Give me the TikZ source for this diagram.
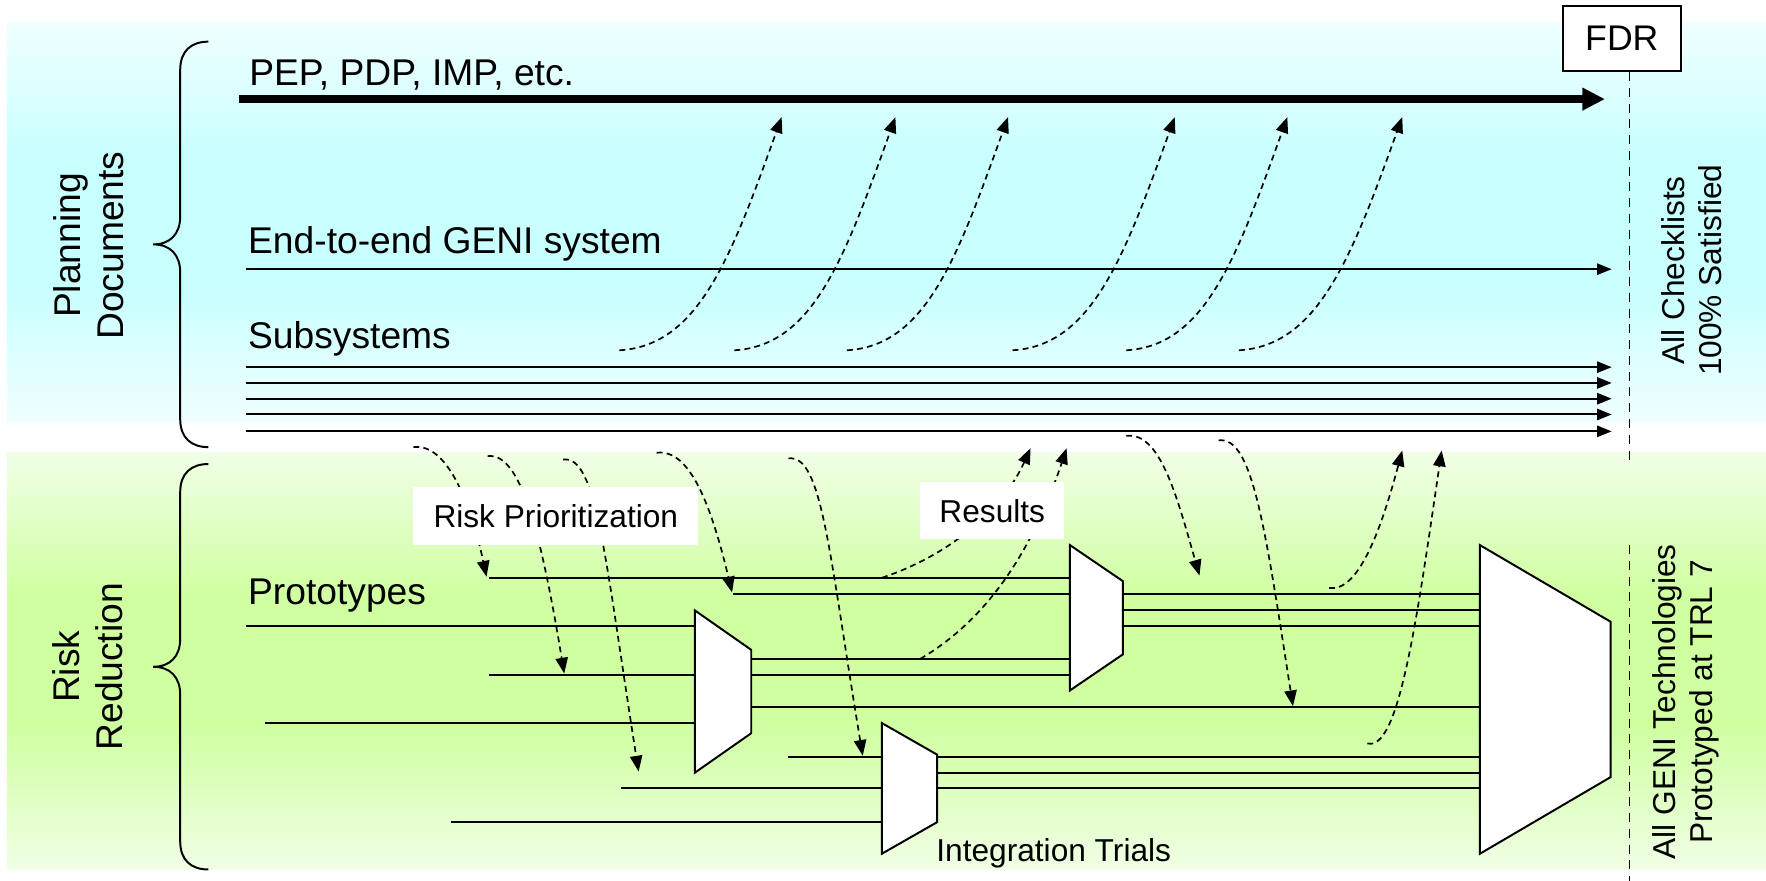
\documentclass[tikz,border=0pt]{standalone}
\usepackage{fontspec}
\setmainfont{Liberation Sans}
\usetikzlibrary{arrows.meta}

\definecolor{planTop}{HTML}{F0FFFF}
\definecolor{planMid}{HTML}{C8FFFF}
\definecolor{riskTop}{HTML}{F0FFE6}
\definecolor{riskMid}{HTML}{D0FFA2}

% bands: the path's box spans 25bp (bottom) to 75bp (top)
\pgfdeclareverticalshading{planband}{100bp}{color(0bp)=(planTop); color(25bp)=(planTop);
  color(42bp)=(planMid); color(58bp)=(planMid); color(75bp)=(planTop); color(100bp)=(planTop)}
\pgfdeclareverticalshading{riskband}{100bp}{color(0bp)=(riskTop); color(25bp)=(riskTop);
  color(42bp)=(riskMid); color(58bp)=(riskMid); color(75bp)=(riskTop); color(100bp)=(riskTop)}

\tikzset{
  wire/.style={line width=0.35mm},
  flow/.style={wire, -{Triangle[length=2.6mm,width=2mm]}},
  mainflow/.style={line width=1.4mm, -{Triangle[length=4mm,width=3.8mm]}},
  loopback/.style={line width=0.3mm, dash pattern=on 1.05mm off 0.75mm,
    -{Triangle[length=2.8mm,width=2.2mm]}},
  milestone/.style={line width=0.25mm, dash pattern=on 1.6mm off 1.2mm},
  combiner/.style={wire, fill=white},
  biglabel/.style={font=\fontsize{18.8}{21.6}\selectfont, inner sep=0pt},
  smalllabel/.style={font=\fontsize{16}{18.5}\selectfont, inner sep=0pt},
  tag/.style={smalllabel, fill=white},
}

\begin{document}
\begin{tikzpicture}[x=0.2mm, y=-0.2mm]
      \useasboundingbox (0,0) rectangle (1568,782);

      % bands
      \shade[shading=planband] (6,20) rectangle (1568,375);
      \shade[shading=riskband] (6,402) rectangle (1568,772);

      % braces
      \draw[wire] (185,37) .. controls (170,37) and (160,45) .. (160,62) -- (160,192)
        .. controls (160,208) and (151,217) .. (136,217)
        .. controls (151,217) and (160,226) .. (160,242) -- (160,372)
        .. controls (160,389) and (170,397) .. (185,397);
      \draw[wire] (185,412) .. controls (170,412) and (160,420) .. (160,437) -- (160,567)
        .. controls (160,583) and (151,592) .. (136,592)
        .. controls (151,592) and (160,601) .. (160,617) -- (160,747)
        .. controls (160,764) and (170,772) .. (185,772);

      \node[biglabel, rotate=90, align=center] (planning) at (79,218) {Planning\\Documents};
      \node[biglabel, rotate=90, align=center] (risk) at (78,592) {Risk\\Reduction};
      \node[smalllabel, rotate=90, align=center] (checklists) at (1502,240) {All Checklists\\100\% Satisfied};
      \node[smalllabel, rotate=90, align=center] (trl) at (1497,623) {All GENI Technologies\\Prototyped at TRL 7};

      \node[biglabel, anchor=base west] (pep) at (221,76) {PEP, PDP, IMP, etc.};
      \node[biglabel, anchor=base west] (e2e) at (220,225) {End-to-end GENI system};
      \node[biglabel, anchor=base west] (subsys) at (220,309) {Subsystems};
      \node[biglabel, anchor=base west] (proto) at (220,537) {Prototypes};
      \node[smalllabel, anchor=base west] (trials) at (831,765) {Integration Trials};

      % planning tracks
      \coordinate (pepW) at (212,88);
      \coordinate (pepE) at (1425,88);
      \draw[mainflow] (pepW) -- (pepE);
      \coordinate (e2eW) at (218,239);
      \coordinate (e2eE) at (1431,239);
      \draw[flow] (e2eW) -- (e2eE);
      \foreach \y [count=\i] in {326,340,354,368,383} {
        \coordinate (subW\i) at (218,\y);
        \coordinate (subE\i) at (1431,\y);
        \draw[flow] (subW\i) -- (subE\i);
      }

      % left edges of the combiners
      \coordinate (muxA) at (617,0);
      \coordinate (muxB) at (950,0);
      \coordinate (muxC) at (783,0);
      \coordinate (muxD) at (1314,0);

      % prototype inputs
      \foreach \x/\y/\m [count=\i] in {434/513/muxB, 651/527/muxB, 218/556/muxA,
          434/599/muxA, 235/642/muxA, 700/672/muxC, 551/700/muxC, 400/730/muxC} {
        \coordinate (pr\i) at (\x,\y);
        \draw[wire] (pr\i) -- (pr\i -| \m);
      }
      % combined outputs
      \foreach \x/\y/\m [count=\i] in {667/585/muxB, 667/599/muxB, 667/628/muxD,
          997/527/muxD, 997/542/muxD, 997/556/muxD,
          832/672/muxD, 832/686/muxD, 832/700/muxD} {
        \coordinate (ow\i) at (\x,\y);
        \draw[wire] (ow\i) -- (ow\i -| \m);
      }

      \draw[combiner] (617,542) -- (667,577) -- (667,651) -- (617,686) -- cycle;
      \draw[combiner] (950,484) -- (997,516) -- (997,581) -- (950,613) -- cycle;
      \draw[combiner] (783,642) -- (832,670) -- (832,730) -- (783,758) -- cycle;
      \draw[combiner] (1314,484) -- (1430,552) -- (1430,690) -- (1314,758) -- cycle;

      % milestones
      \node[draw, fill=white, line width=0.4mm, inner sep=0pt,
        font=\fontsize{18}{21}\selectfont,
        minimum width=21mm, minimum height=11.6mm] (fdr) at (1440,34) {FDR};
      \coordinate (gateA) at (1447,411);
      \draw[milestone] (fdr.south -| gateA) -- (gateA);
      \coordinate (gateB) at (1447,484);
      \coordinate (gateC) at (1447,782);
      \draw[milestone] (gateB) -- (gateC);

      % feedback into the plans
      \foreach \s/\t [count=\i] in {550/694, 652/795, 752/895, 899/1043, 1000/1143, 1100/1245} {
        \coordinate (fbS\i) at (\s,311);
        \coordinate (fbT\i) at (\t,104);
        \draw[loopback] (fbS\i) .. controls +(70,-4) and +(-45,125) .. (fbT\i);
      }

      % risk prioritization
      \foreach \sx/\sy/\tx/\ty/\cx/\cy [count=\i] in {367/397/432/512/-14/-65,
          433/405/501/598/-20/-120, 500/408/567/685/-30/-190,
          583/402/650/526/-18/-75, 700/407/766/671/-30/-180,
          1000/387/1065/511/-20/-70, 1082/391/1148/627/-25/-160} {
        \coordinate (rkS\i) at (\sx,\sy);
        \coordinate (rkT\i) at (\tx,\ty);
        \draw[loopback] (rkS\i) .. controls +(30,-4) and +(\cx,\cy) .. (rkT\i);
      }

      % results
      \coordinate (resS1) at (783,513);
      \coordinate (resT1) at (915,398);
      \coordinate (resS2) at (817,585);
      \coordinate (resT2) at (947,398);
      \coordinate (resS3) at (1180,522);
      \coordinate (resT3) at (1245,400);
      \coordinate (resS4) at (1214,660);
      \coordinate (resT4) at (1280,400);
      \draw[loopback] (resS1) .. controls +(60,-20) and +(-25,55) .. (resT1);
      \draw[loopback] (resS2) .. controls +(60,-35) and +(-30,90) .. (resT2);
      \draw[loopback] (resS3) .. controls +(25,4) and +(-20,75) .. (resT3);
      \draw[loopback] (resS4) .. controls +(28,8) and +(-22,150) .. (resT4);

      \node[tag, minimum width=50.6mm, minimum height=10.4mm] (prio) at (493.5,458) {Risk Prioritization};
      \node[tag, minimum width=25.6mm, minimum height=10.2mm] (results) at (881,453.5) {Results};
    \end{tikzpicture}
\end{document}
